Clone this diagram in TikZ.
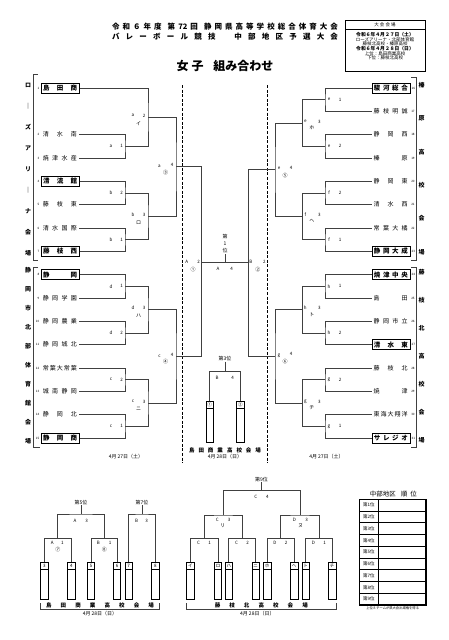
\documentclass[tikz,border=0pt]{standalone}
\usepackage{fontspec}
\setmainfont{Noto Sans CJK JP}
\usetikzlibrary{positioning,calc}
\newcommand\fs[1]{\fontsize{#1}{#1}\selectfont}
\newcommand\tname[1]{\makebox[34pt][s]{#1}}

\begin{document}
\begin{tikzpicture}[x=1pt,y=-1pt,
  br/.style={draw=black!75,line width=0.7pt},
  team/.style={inner xsep=2pt,inner ysep=2pt,anchor=west,font=\fs{6}},
  seed/.style={team,draw,line width=0.8pt,font=\fs{6.5}\bfseries},
  no/.style={font=\fs{3},inner sep=0pt},
  ml/.style={font=\fs{4.5},inner sep=0pt},
  kn/.style={font=\fs{5},inner sep=0pt},
  vt/.style={font=\fs{6}\bfseries,inner sep=0pt},
  hd/.style={font=\fs{5},inner sep=0pt},
  slot/.style={draw,line width=0.6pt,minimum width=7.3pt,minimum height=41pt,inner sep=0pt,anchor=north,
    path picture={
      \node[font=\fs{4.5},inner sep=0pt,minimum size=0pt,draw=none,anchor=center] at ([yshift=-3.7pt]path picture bounding box.north) {#1};
      \draw[line width=0.5pt] ([yshift=-7.3pt]path picture bounding box.north west) -- ([yshift=-7.3pt]path picture bounding box.north east);}},
  slotb/.style={slot=#1,minimum height=37.6pt}]
\useasboundingbox (0,0) rectangle (448,640);

% header
\node[font=\fs{7.5}\bfseries] (tt1) at (225,26.7) {\makebox[226pt][s]{令 和 ６ 年 度 \ 第 72 回 \ 静 岡 県 高 等 学 校 総 合 体 育 大 会}};
\node[font=\fs{7.5}\bfseries] (tt2) at (225,36.7) {\makebox[226pt][s]{バ レ ー ボ ー ル 競 技 \ \ 中 部 地 区 予 選 大 会}};
\node[font=\fs{12}\bfseries] (ttl) at (225,66) {女\hspace{3pt}子\hspace{10pt}組み合わせ};

% venue box
\draw[line width=1pt] (345,20.7) rectangle (425,71.7);
\draw[line width=0.6pt] (345,29.3) -- (425,29.3);
\node[font=\fs{4.5}] at (385,25) {大 会 会 場};
\node[font=\fs{4.8}\bfseries] at (385,34.3) {令和６年４月２７日（土）};
\node[font=\fs{4.5}] at (385,39.3) {ローズアリーナ・北部体育館};
\node[font=\fs{4.5}] at (385,44) {藤枝北高校・榛原高校};
\node[font=\fs{4.8}\bfseries] at (385,48.6) {令和６年４月２８日（日）};
\node[font=\fs{4.5}] at (385,53.3) {上位：島田商業高校};
\node[font=\fs{4.5}] at (385,58) {下位：藤枝北高校};

% venue columns
\draw[br] (38,74) -- (33,74) -- (33,260) -- (38,260);
\draw[br] (38,267) -- (33,267) -- (33,447) -- (40,447);
\draw[br] (411,77) -- (416.7,77) -- (416.7,260) -- (411,260);
\draw[br] (411,267) -- (416.7,267) -- (416.7,447.5) -- (411,447.5);
\foreach \c [count=\i from 0] in {ロ,｜,ズ,ア,リ,｜,ナ,会,場} \node[vt] at (28,{85+21*\i}) {\c};
\foreach \c [count=\i from 0] in {静,岡,市,北,部,体,育,館,会,場} \node[vt] at (28,{270+19*\i}) {\c};
\foreach \c [count=\i from 0] in {榛,原,高,校,会,場} \node[vt] at (421.7,{85+33.4*\i}) {\c};
\foreach \c [count=\i from 0] in {藤,枝,北,高,校,会,場} \node[vt] at (421.7,{272+28*\i}) {\c};

% dashed separators
\draw[line width=0.9pt,dash pattern=on 3pt off 1.6pt] (182.7,85) -- (182.7,463);
\draw[line width=0.9pt,dash pattern=on 3pt off 1.6pt] (267.3,85) -- (267.3,463);

% left teams
\node[seed] (t1) at (40.7,88) {\tname{島 田 商}};
\node[team] (t2) at (40.7,134.67) {\tname{清 水 南}};
\node[team] (t3) at (40.7,158) {\tname{焼 津 水 産}};
\node[seed] (t4) at (40.7,181.33) {\tname{清 流 館}};
\node[team] (t5) at (40.7,204.67) {\tname{藤 枝 東}};
\node[team] (t6) at (40.7,228) {\tname{清 水 国 際}};
\node[seed] (t7) at (40.7,251.33) {\tname{藤 枝 西}};
\node[seed] (t8) at (40.7,274.67) {\tname{静 岡}};
\node[team] (t9) at (40.7,298) {\tname{静 岡 学 園}};
\node[team] (t10) at (40.7,321.33) {\tname{静 岡 農 業}};
\node[team] (t11) at (40.7,344.67) {\tname{静 岡 城 北}};
\node[team] (t12) at (40.7,368) {\tname{常 葉 大 常 葉}};
\node[team] (t13) at (40.7,391.33) {\tname{城 南 静 岡}};
\node[team] (t14) at (40.7,414.67) {\tname{静 岡 北}};
\node[seed] (t15) at (40.7,438) {\tname{静 岡 商}};
\foreach \n in {1,...,15} \node[no,anchor=east] at ([xshift=-1.2pt]t\n.west) {\n};

% right teams
\node[seed] (t16) at (371.5,88) {\tname{駿 河 総 合}};
\node[team] (t17) at (371.5,111.33) {\tname{藤 枝 明 誠}};
\node[team] (t18) at (371.5,134.67) {\tname{静 岡 西}};
\node[team] (t19) at (371.5,158) {\tname{榛 原}};
\node[team] (t20) at (371.5,181.33) {\tname{静 岡 東}};
\node[team] (t21) at (371.5,204.67) {\tname{清 水 西}};
\node[team] (t22) at (371.5,228) {\tname{常 葉 大 橘}};
\node[seed] (t23) at (371.5,251.33) {\tname{静 岡 大 成}};
\node[seed] (t24) at (371.5,274.67) {\tname{焼 津 中 央}};
\node[team] (t25) at (371.5,298) {\tname{島 田}};
\node[team] (t26) at (371.5,321.33) {\tname{静 岡 市 立}};
\node[seed] (t27) at (371.5,344.67) {\tname{清 水 東}};
\node[team] (t28) at (371.5,368) {\tname{藤 枝 北}};
\node[team] (t29) at (371.5,391.33) {\tname{焼 津}};
\node[team] (t30) at (371.5,414.67) {\tname{東 海 大 翔 洋}};
\node[seed] (t31) at (371.5,438) {\tname{サ レ ジ オ}};
\foreach \n in {16,...,31} \node[no,anchor=west] at ([xshift=1.2pt]t\n.east) {\n};

% match joints
\coordinate (a1) at (125,146.33); \coordinate (a2) at (148,117.17);
\coordinate (b2) at (125,193);    \coordinate (b1) at (125,239.67); \coordinate (b3) at (148,216.33);
\coordinate (d1) at (125,286.33); \coordinate (d2) at (125,333);    \coordinate (d3) at (148,309.67);
\coordinate (c2) at (125,379.67); \coordinate (c1) at (125,426.33); \coordinate (c3) at (148,403);
\coordinate (q3) at (176,166.75); \coordinate (q4) at (176,356.33);
\coordinate (e1) at (325,99.67);  \coordinate (e2) at (325,146.33); \coordinate (e3) at (302.3,123);
\coordinate (f2) at (325,193);    \coordinate (f1) at (325,239.67); \coordinate (f3) at (302.3,216.33);
\coordinate (h1) at (325,286.33); \coordinate (h2) at (325,333);    \coordinate (h3) at (302.3,309.67);
\coordinate (g2) at (325,379.67); \coordinate (g1) at (325,426.33); \coordinate (g3) at (302.3,403);
\coordinate (q5) at (275,169.67); \coordinate (q6) at (275,356.33);
\coordinate (sA) at (201.7,262.5); \coordinate (sB) at (248.3,262.5); \coordinate (fin) at (225,262.5);

% left bracket
\draw[br] (t2.east) -| (a1) |- (t3.east);
\draw[br] (t1.east) -| (a2) |- (a1);
\draw[br] (t4.east) -| (b2) |- (t5.east);
\draw[br] (t6.east) -| (b1) |- (t7.east);
\draw[br] (b2) -| (b3) |- (b1);
\draw[br] (a2) -| (q3) |- (b3);
\draw[br] (t8.east) -| (d1) |- (t9.east);
\draw[br] (t10.east) -| (d2) |- (t11.east);
\draw[br] (d1) -| (d3) |- (d2);
\draw[br] (t12.east) -| (c2) |- (t13.east);
\draw[br] (t14.east) -| (c1) |- (t15.east);
\draw[br] (c2) -| (c3) |- (c1);
\draw[br] (d3) -| (q4) |- (c3);
\draw[br] (q3) -| (sA) |- (q4);

% right bracket
\draw[br] (t16.west) -| (e1) |- (t17.west);
\draw[br] (t18.west) -| (e2) |- (t19.west);
\draw[br] (e1) -| (e3) |- (e2);
\draw[br] (t20.west) -| (f2) |- (t21.west);
\draw[br] (t22.west) -| (f1) |- (t23.west);
\draw[br] (f2) -| (f3) |- (f1);
\draw[br] (e3) -| (q5) |- (f3);
\draw[br] (t24.west) -| (h1) |- (t25.west);
\draw[br] (t26.west) -| (h2) |- (t27.west);
\draw[br] (h1) -| (h3) |- (h2);
\draw[br] (t28.west) -| (g2) |- (t29.west);
\draw[br] (t30.west) -| (g1) |- (t31.west);
\draw[br] (g2) -| (g3) |- (g1);
\draw[br] (h3) -| (q6) |- (g3);
\draw[br] (q5) -| (sB) |- (q6);

% final and 3rd place
\draw[br] (sA) -- (sB);
\node[font=\fontsize{5}{7}\selectfont,align=center,inner sep=0.5pt,anchor=south] (first) at (225,254) {第\\1\\位};
\draw[br] (fin) -- (first.south);
\node[hd] (third) at (225,359) {第3位};
\coordinate (tp) at (225,371.7);
\node[slot=①] (r1) at (209.7,401) {};
\node[slot=②] (r2) at (240.3,401) {};
\draw[br] (third.south) -- (tp);
\draw[br] (r1.north) |- (tp) -| (r2.north);

% match labels
\foreach \j/\l/\n in {a1/a/1,b2/b/2,b1/b/1,d1/d/1,d2/d/2,c2/c/2,c1/c/1} {
  \node[ml] at ([shift={(-14,0)}]\j) {\l}; \node[ml] at ([shift={(-3.5,0)}]\j) {\n};}
\foreach \j/\l/\n/\k in {a2/a/2/イ,b3/b/3/ロ,d3/d/3/ハ,c3/c/3/ニ} {
  \node[ml] at ([shift={(-15,-1.5)}]\j) {\l}; \node[ml] at ([shift={(-4,-1.5)}]\j) {\n};
  \node[kn] at ([shift={(-9.5,6)}]\j) {\k};}
\foreach \j/\l/\k in {q3/a/③,q4/c/④} {
  \node[ml] at ([shift={(-16.5,-0.5)}]\j) {\l}; \node[ml] at ([shift={(-4,-1.5)}]\j) {4};
  \node[kn] at ([shift={(-10.5,5.5)}]\j) {\k};}
\foreach \j/\l/\n in {e1/e/1,e2/e/2,f2/f/2,f1/f/1,h1/h/1,h2/h/2,g2/g/2,g1/g/1} {
  \node[ml] at ([shift={(4,0)}]\j) {\l}; \node[ml] at ([shift={(15,0)}]\j) {\n};}
\foreach \j/\l/\k in {e3/e/ホ,f3/f/ヘ,h3/h/ト,g3/g/チ} {
  \node[ml] at ([shift={(3,-1.5)}]\j) {\l}; \node[ml] at ([shift={(17,-1.5)}]\j) {3};
  \node[kn] at ([shift={(9.5,5)}]\j) {\k};}
\foreach \j/\l/\k in {q5/e/⑤,q6/g/⑥} {
  \node[ml] at ([shift={(4,-1)}]\j) {\l}; \node[ml] at ([shift={(16,-2)}]\j) {4};
  \node[kn] at ([shift={(10,5.5)}]\j) {\k};}
\node[ml] at ([shift={(-15,-1)}]sA) {A}; \node[ml] at ([shift={(-3,-1)}]sA) {2};
\node[kn] at ([shift={(-8.5,7)}]sA) {①};
\node[ml] at ([shift={(2.5,-1)}]sB) {B}; \node[ml] at ([shift={(16,-1)}]sB) {2};
\node[kn] at ([shift={(9.5,7)}]sB) {②};
\node[ml] at ([shift={(-7,6.5)}]fin) {A}; \node[ml] at ([shift={(6.7,6.5)}]fin) {4};
\node[ml] at ([shift={(-8,6)}]tp) {B}; \node[ml] at ([shift={(7.7,6)}]tp) {4};

% day 1 footers
\node[vt,font=\fs{5.5}\bfseries] at (225,450) {\makebox[72pt][s]{島 田 商 業 高 校 会 場}};
\node[hd] at (225,456.7) {4月 28日（日）};
\node[hd] at (126,456.7) {4月 27日（土）};
\node[hd] at (326.5,456.7) {4月 27日（土）};

% 5th and 7th place
\node[slotb=3] (p3) at (44.3,561.7) {};
\node[slotb=4] (p4) at (71.3,561.7) {};
\node[slotb=5] (p5) at (91,561.7) {};
\node[slotb=6] (p6) at (117,561.7) {};
\node[slotb=7] (p7) at (128.7,561.7) {};
\node[slotb=8] (p8) at (155.3,561.7) {};
\coordinate (A1) at (57.8,538.3); \coordinate (B1) at (104,538.3);
\coordinate (A3) at (80.9,514);   \coordinate (B3) at (142,514);
\draw[br] (p3.north) |- (A1) -| (p4.north);
\draw[br] (p5.north) |- (B1) -| (p6.north);
\draw[br] (A1) |- (A3) -| (B1);
\draw[br] (p7.north) |- (B3) -| (p8.north);
\node[hd] (fifth) at (80.9,502.3) {第5位};
\node[hd] (seventh) at (142,502.3) {第7位};
\draw[br] (fifth.south) -- (A3);
\draw[br] (seventh.south) -- (B3);
\node[ml] at ([shift={(-6,6.7)}]A3) {A}; \node[ml] at ([shift={(5.8,6.7)}]A3) {3};
\node[ml] at ([shift={(-5.3,6.7)}]B3) {B}; \node[ml] at ([shift={(4.7,6.7)}]B3) {3};
\node[ml] at ([shift={(-5.5,5)}]A1) {A}; \node[ml] at ([shift={(4.5,5)}]A1) {1};
\node[kn] at ([shift={(0,11.7)}]A1) {⑦};
\node[ml] at ([shift={(-5.7,5)}]B1) {B}; \node[ml] at ([shift={(6,5)}]B1) {1};
\node[kn] at ([shift={(0.3,11.7)}]B1) {⑧};
\draw[br] (40.7,603.3) -- (40.7,609.3) -- (159.3,609.3) -- (159.3,603.3);
\node[vt,font=\fs{5.5}\bfseries] at (100,605.3) {\makebox[108pt][s]{島 田 商 業 高 校 会 場}};
\node[hd] at (100,613.5) {4月 28日（日）};

% 9th place
\foreach \k/\x [count=\i] in {イ/190.3,ロ/218,ハ/228.8,ニ/255.7,ホ/267.2,ヘ/294.2,ト/305.7,チ/332.2}
  \node[slotb=\k] (k\i) at (\x,561.7) {};
\coordinate (C1) at (204.2,538.3); \coordinate (C2) at (242.2,538.3);
\coordinate (D2) at (280.7,538.3); \coordinate (D1) at (319,538.3);
\coordinate (C3) at (223.2,515);   \coordinate (D3) at (299.9,515);
\coordinate (C4) at (261.5,490.7);
\draw[br] (k1.north) |- (C1) -| (k2.north);
\draw[br] (k3.north) |- (C2) -| (k4.north);
\draw[br] (k5.north) |- (D2) -| (k6.north);
\draw[br] (k7.north) |- (D1) -| (k8.north);
\draw[br] (C1) |- (C3) -| (C2);
\draw[br] (D2) |- (D3) -| (D1);
\draw[br] (C3) |- (C4) -| (D3);
\node[hd] (ninth) at (261.5,479.3) {第9位};
\draw[br] (ninth.south) -- (C4);
\foreach \j/\l/\n in {C1/C/1,C2/C/2,D2/D/2,D1/D/1} {
  \node[ml] at ([shift={(-5.7,5)}]\j) {\l}; \node[ml] at ([shift={(5.5,5)}]\j) {\n};}
\node[ml] at ([shift={(-5.8,6.6)}]C4) {C}; \node[ml] at ([shift={(5.8,6.6)}]C4) {4};
\node[ml] at ([shift={(-6,5)}]C3) {C}; \node[ml] at ([shift={(6,5)}]C3) {3};
\node[kn] at ([shift={(-0.5,11)}]C3) {リ};
\node[ml] at ([shift={(-5.6,5)}]D3) {D}; \node[ml] at ([shift={(6.8,5)}]D3) {3};
\node[kn] at ([shift={(0.8,11)}]D3) {ヌ};
\draw[br] (186.7,603.3) -- (186.7,609.3) -- (336,609.3) -- (336,603.3);
\node[vt,font=\fs{5.5}\bfseries] at (261.3,605.3) {\makebox[93pt][s]{藤 枝 北 高 校 会 場}};
\node[hd] at (257.3,613.3) {4月 28日（日）};

% ranking table
\node[font=\fs{6.5}] (rank) at (393.3,494) {中部地区\hspace{5pt}順\hspace{3pt}位};
\draw[line width=1.2pt] (359.3,499.3) rectangle (426,605);
\foreach \i in {1,...,8} \draw[line width=0.8pt] (359.3,{499.3+11.74*\i}) -- (426,{499.3+11.74*\i});
\draw[line width=0.5pt] (378.3,499.3) -- (378.3,605);
\foreach \i in {1,...,9} \node[ml] at (368.8,{499.3+11.74*(\i-0.5)}) {第\i 位};
\node[font=\fs{3.3},inner sep=0pt] at (392.7,608.6) {上位８チームが県大会出場権を得る};
\end{tikzpicture}
\end{document}
